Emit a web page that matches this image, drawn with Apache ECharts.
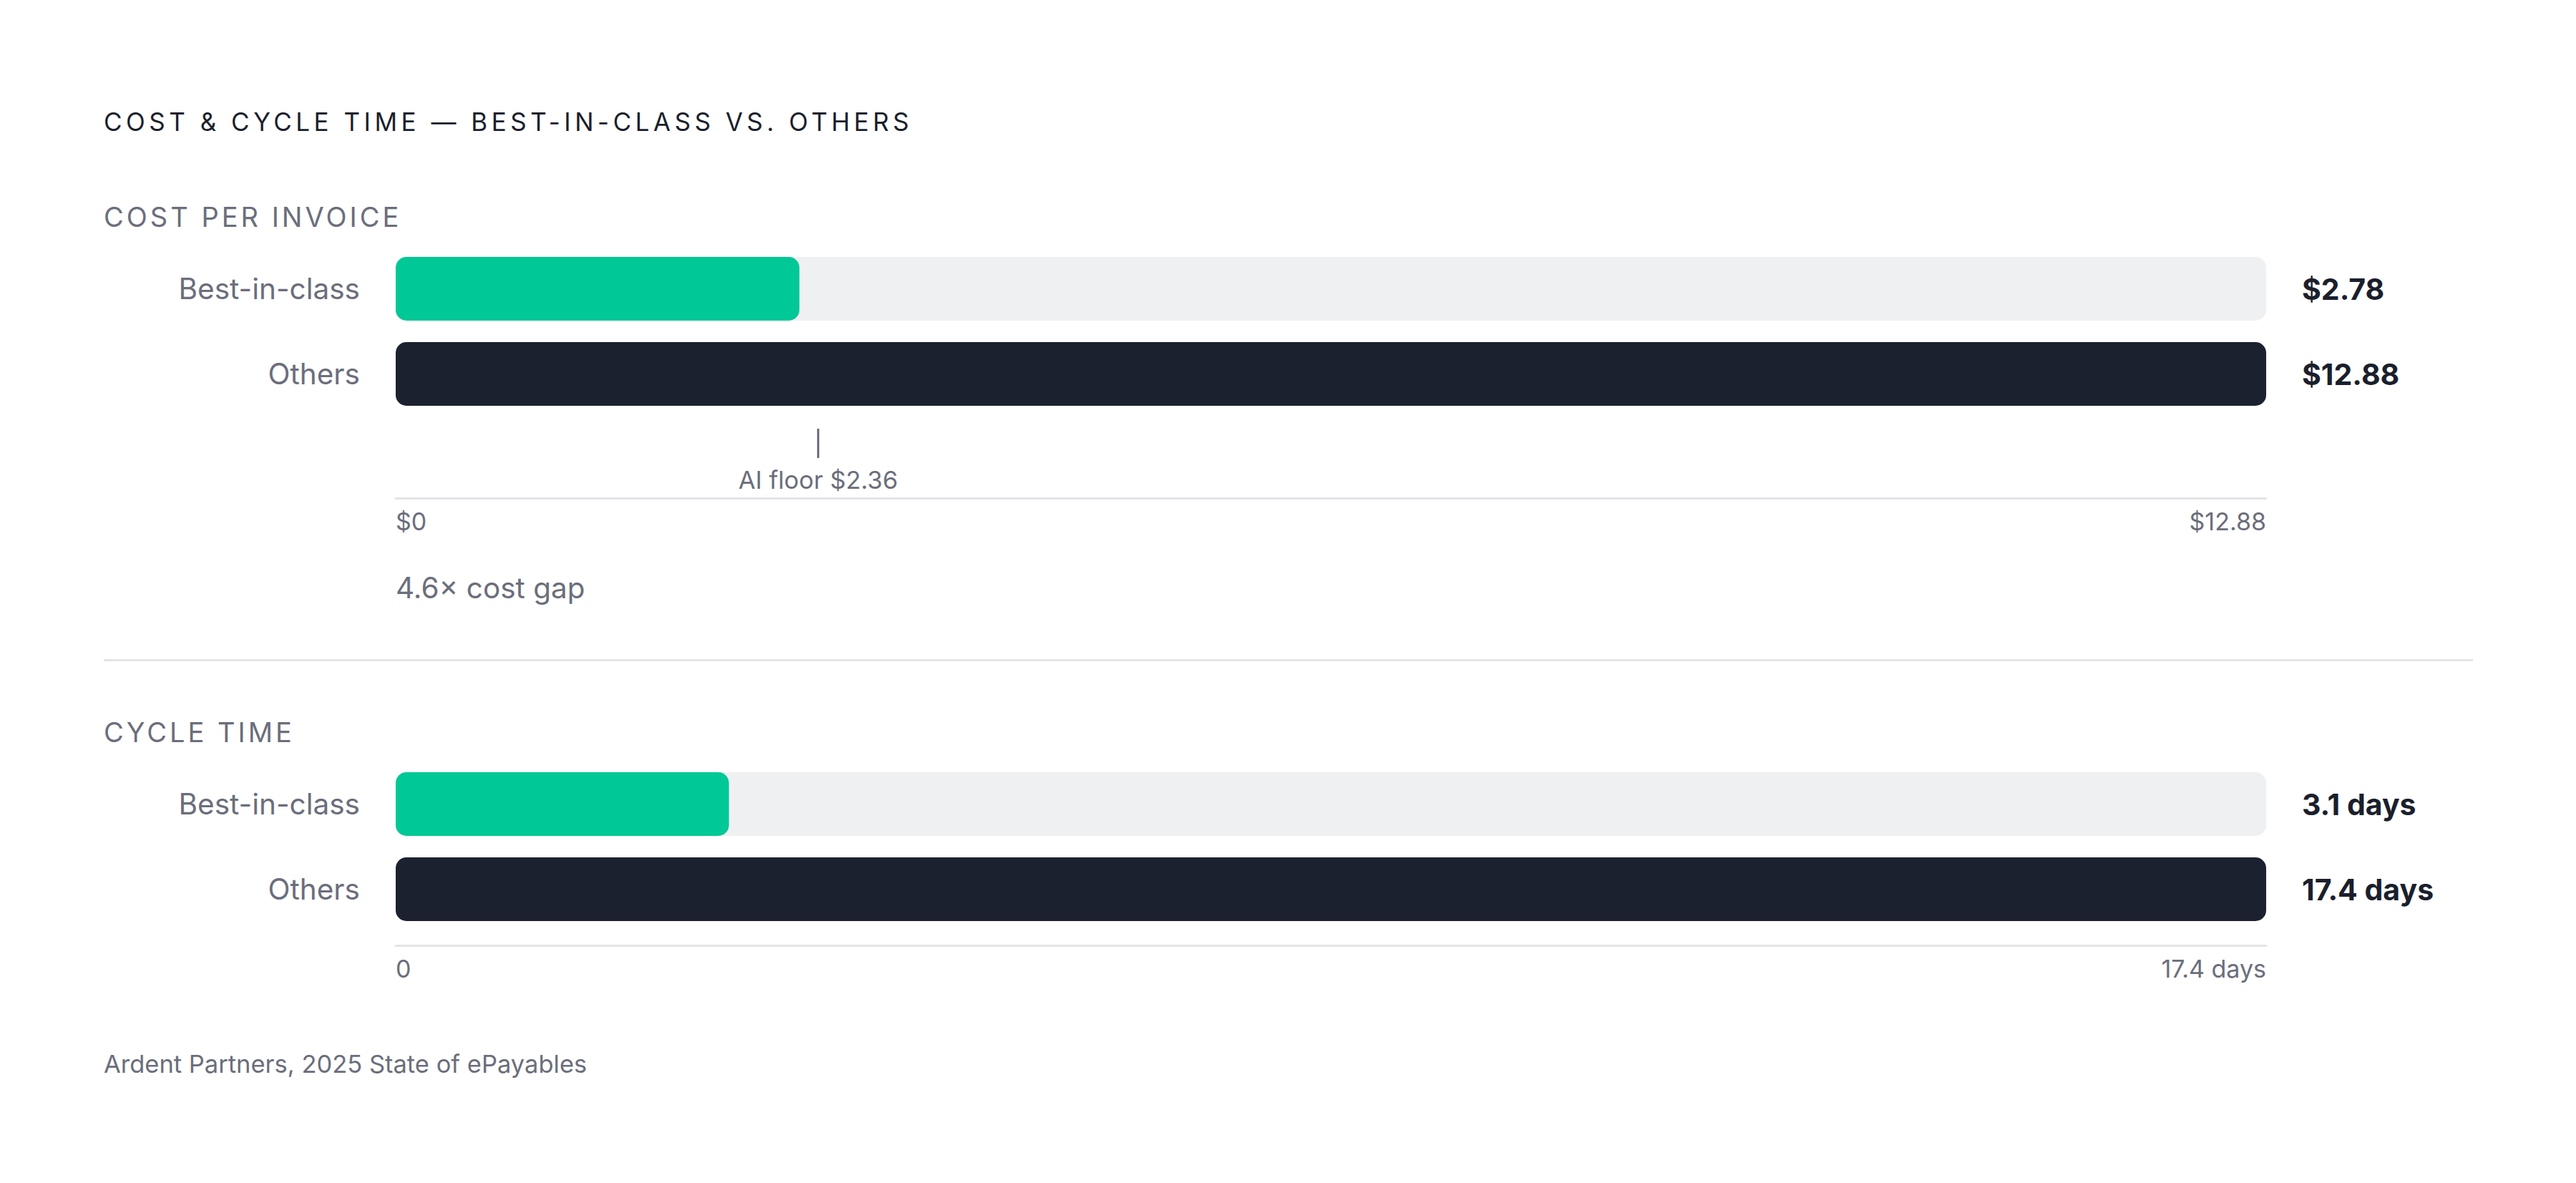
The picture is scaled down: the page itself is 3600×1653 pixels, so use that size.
<!DOCTYPE html>
<html><head><meta charset="utf-8">
<script src="https://cdn.jsdelivr.net/npm/echarts@6/dist/echarts.min.js"></script>
<style>
html,body{margin:0;padding:0;background:#ffffff;}
#chart{width:3600px;height:1653px;}
#chart text[style*="Arial"]{letter-spacing:5.5px;}
#chart text[style*="Helvetica"]{letter-spacing:4px;}
</style></head>
<body><div id="chart"></div>
<script>
// ---- data ----
const categories = ['Best-in-class', 'Others'];
const costValues = [2.78, 12.88];
const cycleValues = [3.1, 17.4];
const costTicks = [0, 12.88];
const cycleTicks = [0, 17.4];
const aiFloor = [2.36];
const titleText = 'COST & CYCLE TIME — BEST-IN-CLASS VS. OTHERS';
const costLabel = 'COST PER INVOICE';
const cycleLabel = 'CYCLE TIME';
const footerText = 'Ardent Partners, 2025 State of ePayables';

// ---- styles ----
const GREEN = '#00c896', DARK = '#1c2130', TRACK = '#eff0f2', GRID_LINE = '#e3e4e8';
const GRAY = '#6b6e7b', INK = '#1b1f2c';
const barColors = [GREEN, DARK];
const FONT = 'Inter';

const chart = echarts.init(document.getElementById('chart'), null, {renderer: 'svg'});

const mctx = document.createElement('canvas').getContext('2d');
function textWidth(t, font) { mctx.font = font; return mctx.measureText(t).width; }

function barSeries(values, idx) {
  return {
    type: 'bar', xAxisIndex: idx, yAxisIndex: idx * 2,
    barWidth: 89,
    showBackground: true,
    backgroundStyle: {color: TRACK, borderRadius: 15},
    itemStyle: {borderRadius: 15},
    data: values.map((v, i) => ({value: v, itemStyle: {color: barColors[i], borderRadius: 15}})),
    silent: true
  };
}

function yAxes(idx, values, fmt) {
  return [
    {gridIndex: idx, type: 'category', data: categories, inverse: true,
     axisLine: {show: false}, axisTick: {show: false},
     axisLabel: {color: GRAY, fontSize: 40.5, fontFamily: FONT, margin: 50}},
    {gridIndex: idx, type: 'category', data: categories, inverse: true, position: 'right',
     axisLine: {show: false}, axisTick: {show: false},
     axisLabel: {color: INK, fontSize: 41, fontWeight: 700, fontFamily: FONT, margin: 50,
                 formatter: (v, i) => fmt(values[i])}}
  ];
}

function xAxis(idx, ticks, offset, fmt) {
  return {
    gridIndex: idx, type: 'value', min: ticks[0], max: ticks[1], interval: ticks[1] - ticks[0],
    offset: offset,
    axisLine: {show: true, lineStyle: {color: GRID_LINE, width: 3}},
    axisTick: {show: false}, splitLine: {show: false},
    axisLabel: {color: GRAY, fontSize: 34, fontFamily: FONT, margin: 15,
                alignMinLabel: 'left', alignMaxLabel: 'right', formatter: fmt}
  };
}

const costFmt = v => '$' + v.toFixed(2);
const cycleFmt = v => v + ' days';

const option = {
  backgroundColor: '#ffffff',
  animation: false,
  grid: [
    {left: 553, width: 2614, top: 344, height: 238},
    {left: 553, width: 2614, top: 1064, height: 238}
  ],
  xAxis: [
    xAxis(0, costTicks, 114, v => '$' + v),
    xAxis(1, cycleTicks, 19, v => (v === 0 ? '0' : v + ' days'))
  ],
  yAxis: [].concat(yAxes(0, costValues, costFmt), yAxes(1, cycleValues, cycleFmt)),
  series: [
    barSeries(costValues, 0),
    barSeries(cycleValues, 1),
    {
      type: 'custom', xAxisIndex: 0, yAxisIndex: 0, silent: true,
      data: aiFloor.map(v => [v]),
      encode: {x: 0},
      renderItem: function (params, api) {
        const val = api.value(0);
        const x = api.coord([val, 0])[0];
        const cs = params.coordSys;
        const gb = cs.y + cs.height;
        const label = 'AI floor $' + val.toFixed(2);
        const w = textWidth(label, '400 34.5px Inter');
        return {
          type: 'group',
          children: [
            {type: 'line', shape: {x1: x + w / 2, y1: gb + 17, x2: x + w / 2, y2: gb + 58},
             style: {stroke: GRAY, lineWidth: 3}},
            {type: 'text', x: x, y: gb + 88,
             style: {text: label, fontSize: 34.5, fontFamily: FONT, fill: GRAY,
                     align: 'left', verticalAlign: 'middle'}}
          ]
        };
      }
    }
  ],
  graphic: [
    {type: 'text', x: 145, y: 170, silent: true,
     style: {text: titleText, fontSize: 35, fontWeight: 400, fontFamily: 'Inter, Arial', fill: INK,
             align: 'left', verticalAlign: 'middle'}},
    {type: 'text', x: 145, y: 303, silent: true,
     style: {text: costLabel, fontSize: 38, fontFamily: 'Inter, Helvetica', fill: GRAY,
             align: 'left', verticalAlign: 'middle'}},
    {type: 'text', x: 553, y: 821, silent: true,
     style: {text: (costValues[1] / costValues[0]).toFixed(1) + '× cost gap', fontSize: 40.5,
             fontFamily: FONT, fill: GRAY, align: 'left', verticalAlign: 'middle'}},
    {type: 'line', silent: true, shape: {x1: 145, y1: 922.5, x2: 3456, y2: 922.5},
     style: {stroke: GRID_LINE, lineWidth: 3}},
    {type: 'text', x: 145, y: 1023, silent: true,
     style: {text: cycleLabel, fontSize: 38, fontFamily: 'Inter, Helvetica', fill: GRAY,
             align: 'left', verticalAlign: 'middle'}},
    {type: 'text', x: 145, y: 1486, silent: true,
     style: {text: footerText, fontSize: 34.5, fontFamily: FONT, fill: GRAY,
             align: 'left', verticalAlign: 'middle'}}
  ]
};
chart.setOption(option);
</script>
</body></html>
